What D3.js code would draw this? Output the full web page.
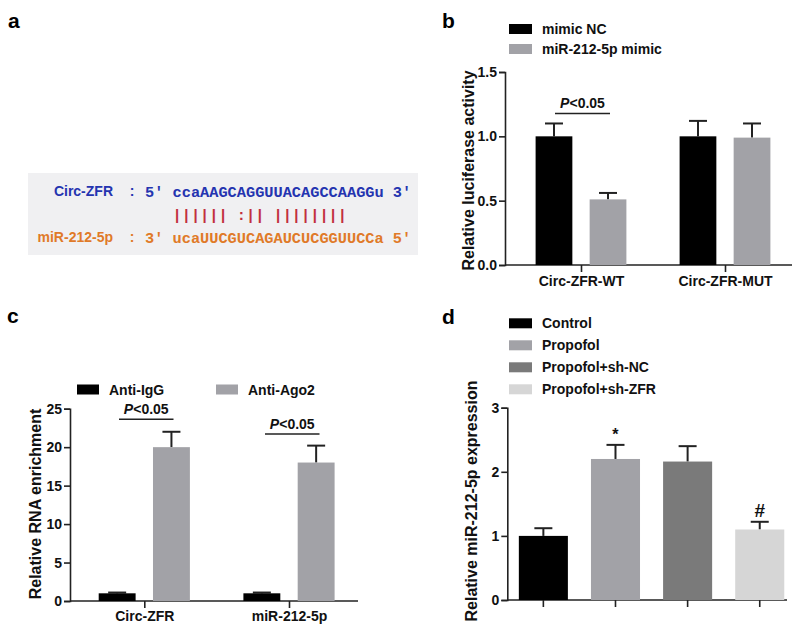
<!DOCTYPE html>
<html>
<head>
<meta charset="utf-8">
<script src="https://cdn.jsdelivr.net/npm/d3@7"></script>
<style>
  html, body { margin: 0; padding: 0; background: #fff; }
  svg { display: block; }
  text { font-family: "Liberation Sans", Arial, sans-serif; font-weight: bold; }
  .mono { font-family: "Liberation Mono", "Courier New", monospace; font-weight: bold; }
</style>
</head>
<body>
<svg id="fig" width="800" height="625"></svg>
<script>
// ---------------- DATA ----------------
// Panel a: sequence alignment
const circLabel = "Circ-ZFR";
const circSeq = "5' ccaAAGCAGGUUACAGCCAAGGu 3'";
const pairLine = "   |||||| :|| ||||||||";
const mirLabel = "miR-212-5p";
const mirSeq = "3' ucaUUCGUCAGAUCUCGGUUCCa 5'";

// Panel b: luciferase
const bGroups = ["Circ-ZFR-WT", "Circ-ZFR-MUT"];
const bSeries = ["mimic NC", "miR-212-5p mimic"];
const bMimicNC = [1.00, 1.00];
const bMimicNCErr = [1.10, 1.12];
const bMimic = [0.51, 0.99];
const bMimicErr = [0.56, 1.10];
const bTicks = [0.0, 0.5, 1.0, 1.5];

// Panel c: RIP
const cGroups = ["Circ-ZFR", "miR-212-5p"];
const cSeries = ["Anti-IgG", "Anti-Ago2"];
const cIgG = [1.0, 1.0];
const cIgGErr = [1.1, 1.1];
const cAgo2 = [20.0, 18.0];
const cAgo2Err = [22.0, 20.2];
const cTicks = [0, 5, 10, 15, 20, 25];

// Panel d: expression
const dCats = ["Control", "Propofol", "Propofol+sh-NC", "Propofol+sh-ZFR"];
const dValues = [1.00, 2.20, 2.16, 1.10];
const dErr = [1.12, 2.42, 2.40, 1.22];
const dMarks = ["", "*", "", "#"];
const dTicks = [0, 1, 2, 3];

// ---------------- STYLE ----------------
const BLACK = "#000000";
const GRAY = "#a2a2a7";
const DARKGRAY = "#7a7a7a";
const LIGHTGRAY = "#d6d6d6";
const AXIS = "#222";

const svg = d3.select("#fig");
svg.append("rect").attr("width", 800).attr("height", 625).attr("fill", "#fff");

function panelLabel(t, x, y) {
  svg.append("text").attr("x", x).attr("y", y).attr("font-size", 21).attr("fill", "#000").text(t);
}

// ---------------- PANEL A ----------------
panelLabel("a", 8, 28);
svg.append("rect").attr("x", 28).attr("y", 173).attr("width", 390).attr("height", 82).attr("fill", "#f0f0f2");
const BLUE = "#2434b0", ORANGE = "#e07a28", RED = "#c22f3e";
svg.append("text").attr("x", 113).attr("y", 196).attr("text-anchor", "end").attr("font-size", 14).attr("fill", BLUE).text(circLabel);
svg.append("text").attr("x", 132).attr("y", 196).attr("text-anchor", "middle").attr("font-size", 14).attr("fill", BLUE).text(":");
svg.append("text").attr("class", "mono").attr("x", 145).attr("y", 197).attr("font-size", 15.3).attr("fill", BLUE)
  .attr("xml:space", "preserve").style("white-space", "pre").text(circSeq);
svg.append("text").attr("class", "mono").attr("x", 145).attr("y", 220).attr("font-size", 15.3).attr("fill", RED)
  .attr("xml:space", "preserve").style("white-space", "pre").text(pairLine);
svg.append("text").attr("x", 113).attr("y", 242).attr("text-anchor", "end").attr("font-size", 14).attr("fill", ORANGE).text(mirLabel);
svg.append("text").attr("x", 132).attr("y", 242).attr("text-anchor", "middle").attr("font-size", 14).attr("fill", ORANGE).text(":");
svg.append("text").attr("class", "mono").attr("x", 145).attr("y", 243).attr("font-size", 15.3).attr("fill", ORANGE)
  .attr("xml:space", "preserve").style("white-space", "pre").text(mirSeq);

// ---------------- HELPERS ----------------
function yAxis(y, x0, fmt) {
  const ax = d3.axisLeft(y).tickValues(y.ticksList).tickSize(6).tickPadding(2).tickFormat(fmt);
  const gg = svg.append("g").attr("transform", `translate(${x0},0)`).call(ax);
  gg.select(".domain").attr("stroke", AXIS).attr("stroke-width", 1.6);
  gg.selectAll(".tick line").attr("stroke", AXIS).attr("stroke-width", 1.6);
  gg.selectAll(".tick text").attr("font-size", 14).attr("fill", "#111")
    .style("font-family", '"Liberation Sans", Arial, sans-serif').style("font-weight", "bold");
  return gg;
}
function xAxisLine(x0, x1, yPix) {
  svg.append("line").attr("x1", x0).attr("x2", x1).attr("y1", yPix).attr("y2", yPix)
    .attr("stroke", AXIS).attr("stroke-width", 1.6);
}
function xTicks(scale, yPix, labels, labelY) {
  const ax = d3.axisBottom(scale).tickSize(7).tickSizeOuter(0).tickFormat(labels ? (d => d) : (() => ""));
  const gg = svg.append("g").attr("transform", `translate(0,${yPix})`).call(ax);
  gg.select(".domain").remove();
  gg.selectAll(".tick line").attr("stroke", AXIS).attr("stroke-width", 1.6);
  gg.selectAll(".tick text").attr("font-size", 14).attr("fill", "#111").attr("y", labelY - yPix).attr("dy", 0)
    .style("font-family", '"Liberation Sans", Arial, sans-serif').style("font-weight", "bold");
}
function bar(xc, w, y, v, err, color) {
  const top = y(v), base = y(0);
  svg.append("line").attr("x1", xc).attr("x2", xc).attr("y1", top).attr("y2", y(err))
    .attr("stroke", "#222").attr("stroke-width", 2);
  svg.append("line").attr("x1", xc - 9).attr("x2", xc + 9).attr("y1", y(err)).attr("y2", y(err))
    .attr("stroke", "#222").attr("stroke-width", 2);
  svg.append("rect").attr("x", xc - w / 2).attr("y", top).attr("width", w).attr("height", base - top).attr("fill", color);
}
function sigLine(x1, x2, yl, ytext) {
  svg.append("line").attr("x1", x1).attr("x2", x2).attr("y1", yl).attr("y2", yl).attr("stroke", "#222").attr("stroke-width", 1.5);
  const t = svg.append("text").attr("x", (x1 + x2) / 2).attr("y", ytext).attr("text-anchor", "middle").attr("font-size", 14).attr("fill", "#111");
  t.append("tspan").attr("font-style", "italic").text("P");
  t.append("tspan").text("<0.05");
}
function legendItem(x, yc, color, label, w = 23, h = 10) {
  svg.append("rect").attr("x", x).attr("y", yc - h / 2).attr("width", w).attr("height", h).attr("fill", color);
  svg.append("text").attr("x", x + w + 10).attr("y", yc + 5).attr("font-size", 14).attr("fill", "#111").text(label);
}
function yTitle(t, x, yc) {
  svg.append("text").attr("transform", `translate(${x},${yc}) rotate(-90)`).attr("text-anchor", "middle")
    .attr("font-size", 16).attr("fill", "#111").text(t);
}

// ---------------- PANEL B ----------------
panelLabel("b", 442, 28);
{
  const y = d3.scaleLinear().domain([0, 1.5]).range([265, 72]);
  y.ticksList = bTicks;
  const xg = d3.scalePoint().domain(bGroups).range([581, 725]);
  const xs = d3.scaleBand().domain(bSeries).range([-45.4, 45.4]).paddingInner(0.32);
  yAxis(y, 505, d3.format(".1f"));
  xAxisLine(505, 792, 265);
  xTicks(xg, 265, true, 286);
  const colors = [BLACK, GRAY];
  const vals = [bMimicNC, bMimic], errs = [bMimicNCErr, bMimicErr];
  bGroups.forEach((g, i) => {
    bSeries.forEach((s, j) => {
      bar(xg(g) + xs(s) + xs.bandwidth() / 2, xs.bandwidth(), y, vals[j][i], errs[j][i], colors[j]);
    });
  });
  sigLine(555, 610, 113.5, 108);
  legendItem(509, 29, BLACK, bSeries[0]);
  legendItem(509, 49, GRAY, bSeries[1]);
  yTitle("Relative luciferase activity", 474, 170.5);
}

// ---------------- PANEL C ----------------
panelLabel("c", 7, 323);
{
  const y = d3.scaleLinear().domain([0, 25]).range([601, 408.7]);
  y.ticksList = cTicks;
  const xg = d3.scalePoint().domain(cGroups).range([144.3, 289]);
  const xs = d3.scaleBand().domain(cSeries).range([-45.6, 45.6]).paddingInner(0.32);
  yAxis(y, 70, d3.format("d"));
  xAxisLine(70, 358, 601);
  xTicks(xg, 601, true, 621);
  const colors = [BLACK, GRAY];
  const vals = [cIgG, cAgo2], errs = [cIgGErr, cAgo2Err];
  cGroups.forEach((g, i) => {
    cSeries.forEach((s, j) => {
      bar(xg(g) + xs(s) + xs.bandwidth() / 2, xs.bandwidth(), y, vals[j][i], errs[j][i], colors[j]);
    });
  });
  sigLine(119, 173.5, 419.3, 413.5);
  sigLine(265, 319.5, 434, 429);
  legendItem(77, 389.5, BLACK, cSeries[0], 22, 10);
  legendItem(216, 389.5, GRAY, cSeries[1], 22, 10);
  yTitle("Relative RNA enrichment", 41, 504);
}

// ---------------- PANEL D ----------------
panelLabel("d", 442, 324);
{
  const y = d3.scaleLinear().domain([0, 3]).range([600, 407.7]);
  y.ticksList = dTicks;
  const x = d3.scaleBand().domain(dCats).range([507.3, 795.8]).paddingInner(0.32).paddingOuter(0.16);
  yAxis(y, 507.3, d3.format("d"));
  xAxisLine(507.3, 787, 600);
  xTicks(x, 600, false, 620);
  const colors = [BLACK, GRAY, DARKGRAY, LIGHTGRAY];
  dCats.forEach((c, i) => {
    bar(x(c) + x.bandwidth() / 2, x.bandwidth(), y, dValues[i], dErr[i], colors[i]);
  });
  // significance marks
  dCats.forEach((c, i) => {
    if (!dMarks[i]) return;
    const isStar = dMarks[i] === "*";
    svg.append("text").attr("x", x(c) + x.bandwidth() / 2).attr("y", isStar ? y(dErr[i]) - 5 : y(dErr[i]) - 5)
      .attr("text-anchor", "middle").attr("font-size", isStar ? 16 : 19).attr("fill", "#111").text(dMarks[i]);
  });
  dCats.forEach((c, i) => legendItem(509, 323.3 + i * 22, colors[i], c));
  yTitle("Relative miR-212-5p expression", 477, 501);
}
</script>
</body>
</html>
